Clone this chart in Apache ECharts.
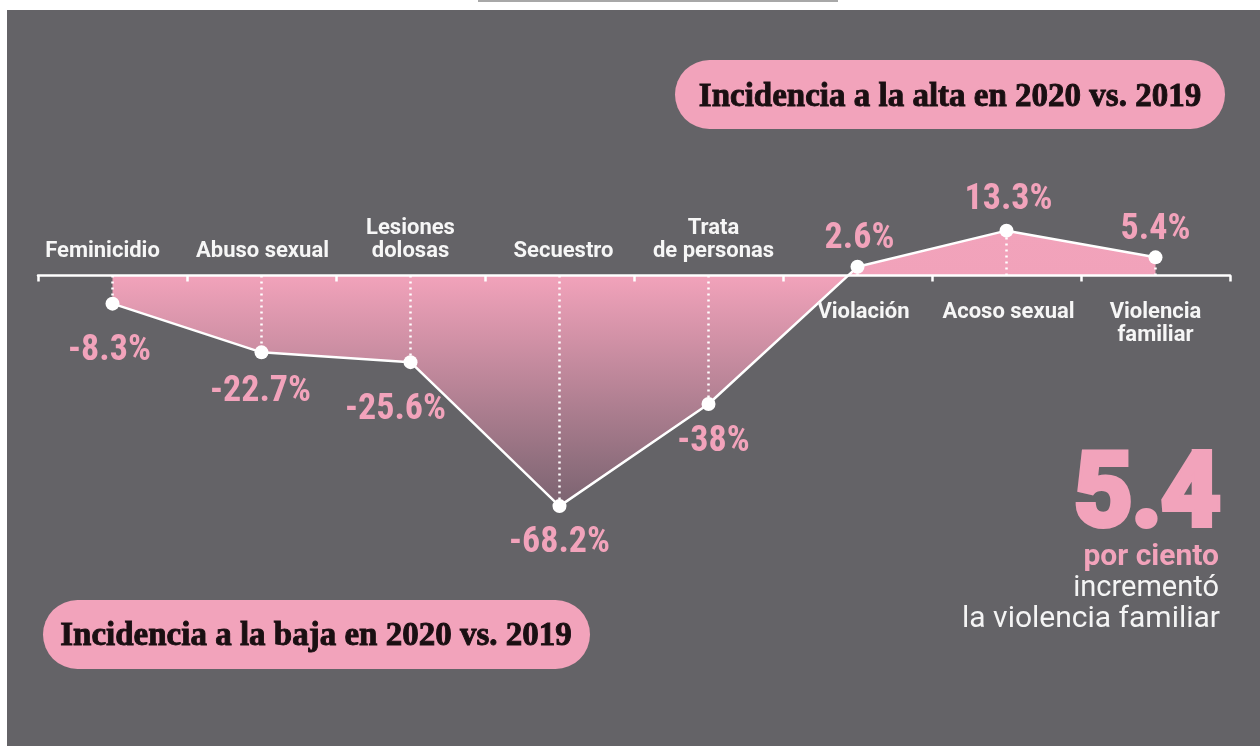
<!DOCTYPE html>
<html><head><meta charset="utf-8">
<script src="https://cdn.jsdelivr.net/npm/echarts@6/dist/echarts.min.js"></script>
<style>html,body{margin:0;padding:0;background:#fff}#c{width:1260px;height:746px}</style>
</head><body><div id="c"></div>
<script>
// ---- data ----
const categories = ['Feminicidio', 'Abuso sexual', 'Lesiones\ndolosas', 'Secuestro', 'Trata\nde personas', 'Violación', 'Acoso sexual', 'Violencia\nfamiliar'];
const values = [-8.3, -22.7, -25.6, -68.2, -38, 2.6, 13.3, 5.4];
const valueLabels = ['-8.3%', '-22.7%', '-25.6%', '-68.2%', '-38%', '2.6%', '13.3%', '5.4%'];
const titleHigh = 'Incidencia a la alta en 2020 vs. 2019';
const titleLow = 'Incidencia a la baja en 2020 vs. 2019';
const bigNumber = '5.4';
const noteLines = ['por ciento', 'incrementó', 'la violencia familiar'];

// ---- layout (label nudges only) ----
const labelNudge = [[-3, 7], [-1, 0], [-15, 8], [0, -3], [5, -2], [2, 2], [2, -1], [0, 3]];
const catPad = [[0, 20, 0, 0], [0, 0, 0, 2], [0, 0, 0, 0], [0, 0, 0, 8], [0, 0, 0, 10], [0, 0, 0, 12], [0, 0, 0, 4], [0, 0, 0, 0]];

const PINK = '#f2a3bb';
const BG = '#646367';
const numFont = "'Liberation Sans Narrow', 'Roboto Condensed', 'Roboto', sans-serif";

const chart = echarts.init(document.getElementById('c'), null, {renderer: 'canvas'});

const seriesData = values.map((v, i) => ({
  value: v,
  label: {
    position: v < 0 ? 'bottom' : 'top',
    distance: v < 0 ? 15 : 5,
    offset: labelNudge[i],
    formatter: () => valueLabels[i]
  }
}));

const catData = categories.map((c, i) => ({
  value: [i, 0],
  label: {
    position: values[i] < 0 ? 'top' : 'bottom',
    distance: values[i] < 0 ? 12 : 24,
    padding: catPad[i],
    formatter: () => c
  }
}));

chart.setOption({
  backgroundColor: BG,
  animation: false,
  grid: {left: 38, right: 30, top: 208, bottom: 200, containLabel: false},
  xAxis: {
    type: 'category', data: categories, boundaryGap: true, z: 5,
    axisLine: {onZero: true, lineStyle: {color: '#ffffff', width: 2.5}},
    axisTick: {show: true, interval: 0, length: 6, lineStyle: {color: '#ffffff', width: 2.5}},
    axisLabel: {show: true, interval: 0, formatter: () => ''}
  },
  yAxis: {type: 'value', min: -80, max: 20, show: false, splitLine: {show: false}},
  series: [{
    type: 'line',
    data: seriesData,
    z: 3,
    symbol: 'circle',
    symbolSize: 14,
    itemStyle: {color: '#ffffff'},
    lineStyle: {color: '#ffffff', width: 2.5},
    areaStyle: {
      opacity: 1,
      color: new echarts.graphic.LinearGradient(0, 0, 0, 1, [
        {offset: 0, color: '#f2a3bb'},
        {offset: 0.17, color: '#f1a2ba'},
        {offset: 1, color: '#7a6370'}
      ])
    },
    label: {
      show: true,
      color: PINK,
      fontSize: 36,
      fontWeight: 'bold',
      fontFamily: numFont,
      lineHeight: 36
    },
    markLine: {
      silent: true,
      symbol: 'none',
      animation: false,
      label: {show: false},
      lineStyle: {type: [2, 4], color: '#ffffff', width: 2.5, opacity: 1},
      data: values.map((v, i) => [{coord: [i, 0]}, {coord: [i, v]}])
    }
  }, {
    type: 'scatter',
    data: catData,
    symbolSize: 2,
    z: 6,
    silent: true,
    itemStyle: {color: 'rgba(0,0,0,0)', opacity: 1},
    label: {
      show: true,
      color: '#f6f6f6',
      opacity: 1,
      fontSize: 22,
      fontWeight: 'bold',
      fontFamily: 'Roboto, sans-serif',
      lineHeight: 23,
      align: 'center'
    },
    labelLayout: {hideOverlap: false}
  }],
  graphic: [
    {type: 'rect', shape: {x: 0, y: 0, width: 1260, height: 10}, style: {fill: '#ffffff'}, silent: true},
    {type: 'rect', shape: {x: 0, y: 0, width: 7, height: 746}, style: {fill: '#ffffff'}, silent: true},
    {type: 'rect', shape: {x: 478, y: 0, width: 360, height: 2}, style: {fill: '#a8a8a8'}, silent: true},
    {type: 'rect', shape: {x: 675, y: 60, width: 550, height: 69, r: 34.5}, style: {fill: PINK}, silent: true},
    {type: 'text', x: 950, y: 97, silent: true,
      style: {text: titleHigh, fill: '#1a0f12', stroke: '#1a0f12', lineWidth: 0.9, font: "bold 33px 'Liberation Serif', serif", textAlign: 'center', textVerticalAlign: 'middle'}},
    {type: 'rect', shape: {x: 43, y: 600, width: 547, height: 69, r: 34.5}, style: {fill: PINK}, silent: true},
    {type: 'text', x: 316, y: 636, silent: true,
      style: {text: titleLow, fill: '#1a0f12', stroke: '#1a0f12', lineWidth: 0.9, font: "bold 33px 'Liberation Serif', serif", textAlign: 'center', textVerticalAlign: 'middle'}},
    {type: 'text', x: 1220, y: 499, silent: true,
      style: {text: bigNumber, fill: PINK, stroke: PINK, lineWidth: 6, lineJoin: 'miter', font: "bold 102px Roboto, sans-serif", textAlign: 'right', textVerticalAlign: 'middle'}},
    {type: 'text', x: 1219, y: 557, silent: true,
      style: {text: noteLines[0], fill: PINK, font: "bold 30px Roboto, sans-serif", textAlign: 'right', textVerticalAlign: 'middle'}},
    {type: 'text', x: 1219, y: 589, silent: true,
      style: {text: noteLines[1], fill: '#f4f4f4', font: "29px Roboto, sans-serif", textAlign: 'right', textVerticalAlign: 'middle'}},
    {type: 'text', x: 1220, y: 619, silent: true,
      style: {text: noteLines[2], fill: '#f4f4f4', font: "30px Roboto, sans-serif", textAlign: 'right', textVerticalAlign: 'middle'}}
  ]
});
</script></body></html>
